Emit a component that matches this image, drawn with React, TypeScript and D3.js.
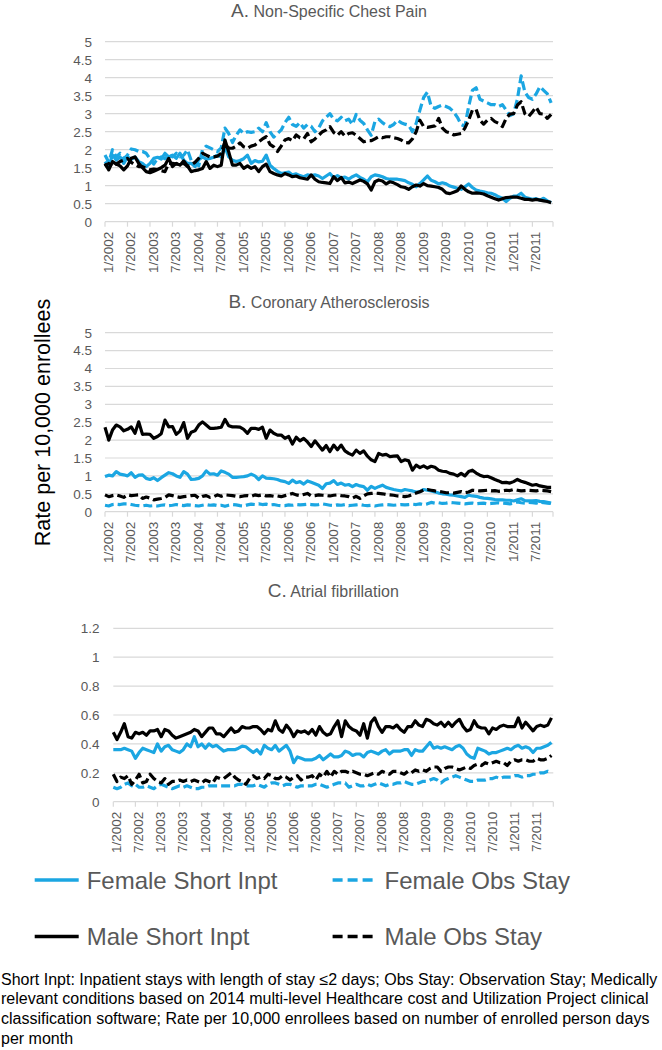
import * as d3 from "d3";

const FONT = "'Liberation Sans', Arial, Helvetica, sans-serif";
const BLUE = "#1ba6e2";
const GREY = "#595959";
const GRID = "#d9d9d9";

const tickLabels = [
  "1/2002", "7/2002", "1/2003", "7/2003", "1/2004", "7/2004", "1/2005", "7/2005",
  "1/2006", "7/2006", "1/2007", "7/2007", "1/2008", "7/2008", "1/2009", "7/2009",
  "1/2010", "7/2010", "1/2011", "7/2011",
];

const seriesNames = ["Female Short Inpt", "Female Obs Stay", "Male Short Inpt", "Male Obs Stay"];

// A. Non-Specific Chest Pain, monthly 1/2002 - 12/2011
const chestFemaleInpt = [
  1.67, 1.53, 1.85, 1.71, 1.8, 1.62, 1.8, 1.73, 1.8, 1.67, 1.62, 1.53,
  1.62, 1.76, 1.79, 1.74, 1.9, 1.8, 1.85, 1.76, 1.9, 1.71, 1.62, 1.62,
  1.53, 1.72, 1.8, 1.74, 1.76, 1.79, 1.85, 1.8, 2.08, 1.8, 1.71, 1.67,
  1.7, 1.75, 1.85, 1.62, 1.7, 1.66, 1.68, 1.85, 1.57, 1.48, 1.4, 1.34,
  1.36, 1.38, 1.3, 1.33, 1.28, 1.25, 1.3, 1.28, 1.3, 1.27, 1.2, 1.27,
  1.34, 1.22, 1.28, 1.22, 1.24, 1.18, 1.25, 1.3, 1.23, 1.18, 1.11, 1.25,
  1.3, 1.28, 1.25, 1.2, 1.18, 1.18, 1.18, 1.16, 1.14, 1.08, 1.04, 0.97,
  1.06, 1.16, 1.27, 1.15, 1.11, 1.05, 1.08, 1.05, 0.99, 0.96, 0.93, 0.9,
  0.97, 1.05, 0.95, 0.88, 0.85, 0.83, 0.8, 0.79, 0.75, 0.69, 0.65, 0.56,
  0.65, 0.71, 0.72, 0.79, 0.68, 0.65, 0.62, 0.64, 0.6, 0.65, 0.58, 0.53,
];
const chestFemaleObs = [
  1.85, 1.65, 2.0, 1.8, 1.9, 1.75, 1.85, 2.02, 2.0, 1.95, 1.95, 1.9,
  1.75, 1.6, 1.75, 1.8, 1.75, 1.85, 1.8, 1.9, 1.8, 1.85, 2.0, 1.7,
  1.65, 1.55, 2.0, 2.1, 2.05, 2.0, 1.95, 2.05, 2.6, 2.45, 2.2, 2.4,
  2.55, 2.45, 2.5, 2.48, 2.5, 2.6, 2.5, 2.75, 2.5, 2.35, 2.45, 2.55,
  2.75, 2.9, 2.7, 2.65, 2.75, 2.6, 2.7, 2.65, 2.5, 2.6, 2.8, 2.9,
  3.0, 2.85, 2.8, 2.9, 2.8, 2.85, 2.7, 2.98, 2.82, 2.73, 2.55, 2.4,
  2.78, 2.85, 2.75, 2.68, 2.64, 2.7, 2.82, 2.75, 2.71, 2.68, 2.5, 2.73,
  3.1, 3.45, 3.6, 3.2, 3.15, 3.2, 3.24, 3.2, 3.15, 3.05, 2.9, 2.7,
  2.65, 3.2, 3.65, 3.72, 3.4, 3.35, 3.3, 3.25, 3.25, 3.2, 3.25, 3.1,
  2.95, 3.0, 3.4, 4.05, 3.6, 3.45, 3.4, 3.55, 3.75, 3.65, 3.55, 3.3,
];
const chestMaleInpt = [
  1.62, 1.44, 1.67, 1.6, 1.55, 1.44, 1.55, 1.76, 1.8, 1.62, 1.5, 1.39,
  1.36, 1.4, 1.45, 1.5, 1.57, 1.76, 1.53, 1.62, 1.57, 1.69, 1.55, 1.39,
  1.42, 1.44, 1.48, 1.67, 1.48, 1.57, 1.53, 1.57, 2.27, 1.94, 1.57, 1.57,
  1.62, 1.48, 1.55, 1.48, 1.53, 1.39, 1.53, 1.6, 1.39, 1.34, 1.3, 1.27,
  1.34, 1.3, 1.25, 1.27, 1.22, 1.2, 1.18, 1.3, 1.18, 1.11, 1.09, 1.08,
  1.06, 1.25, 1.14, 1.23, 1.08, 1.1, 1.06, 1.11, 1.16, 1.12, 1.05, 0.88,
  1.11, 1.16, 1.13, 1.05, 1.11, 1.08, 1.03, 0.97, 0.95, 0.9, 0.97, 1.02,
  0.99, 1.06, 1.0, 0.99, 0.97, 0.95, 0.9, 0.8, 0.78, 0.82, 0.86, 0.99,
  0.9, 0.83, 0.79, 0.8, 0.79, 0.77, 0.72, 0.68, 0.64, 0.6, 0.64, 0.67,
  0.68, 0.68, 0.68, 0.65, 0.62, 0.62, 0.6, 0.62, 0.6, 0.58, 0.56, 0.53,
];
const chestMaleObs = [
  1.53, 1.62, 1.53, 1.6, 1.67, 1.71, 1.76, 1.65, 1.58, 1.53, 1.53, 1.48,
  1.44, 1.46, 1.45, 1.42, 1.39, 1.62, 1.62, 1.6, 1.6, 1.62, 1.53, 1.58,
  1.65, 1.76, 1.9, 1.85, 1.8, 1.8, 1.82, 1.9, 2.22, 2.04, 2.04, 2.1,
  2.19, 2.08, 2.04, 2.1, 2.13, 2.22, 2.3, 2.36, 2.15, 2.08, 1.95, 2.1,
  2.27, 2.31, 2.25, 2.41, 2.33, 2.3, 2.45, 2.22, 2.3, 2.4, 2.5, 2.55,
  2.64, 2.48, 2.4, 2.5, 2.38, 2.45, 2.47, 2.4, 2.31, 2.22, 2.25, 2.25,
  2.3, 2.36, 2.33, 2.36, 2.36, 2.33, 2.31, 2.27, 2.2, 2.19, 2.3, 2.5,
  2.82, 2.64, 2.62, 2.64, 2.66, 2.87, 2.6, 2.5, 2.47, 2.41, 2.43, 2.45,
  2.6, 2.82, 3.1, 3.12, 2.82, 2.71, 2.82, 2.87, 2.78, 2.73, 2.64, 2.87,
  2.99, 3.0, 3.24, 3.33, 3.0, 2.92, 3.05, 3.18, 3.0, 2.99, 2.87, 2.98,
];

// B. Coronary Atherosclerosis
const coronaryFemaleInpt = [
  0.98, 1.02, 1.0, 1.12, 1.05, 1.03, 1.0, 1.09, 0.96, 1.02, 1.03, 0.93,
  0.9, 0.95, 0.87, 0.95, 1.02, 1.09, 1.06, 1.0, 0.96, 1.12, 1.05, 0.9,
  0.91, 0.93, 1.0, 1.14, 1.05, 1.06, 1.02, 1.14, 1.1, 1.05, 0.96, 0.96,
  0.97, 0.98, 1.0, 1.05, 1.0, 0.9, 1.0, 0.94, 0.93, 0.92, 0.9, 0.86,
  0.84, 0.79, 0.88, 0.81, 0.84, 0.77, 0.86, 0.82, 0.78, 0.74, 0.65, 0.78,
  0.8, 0.87, 0.76, 0.8, 0.74, 0.76, 0.7, 0.76, 0.72, 0.7, 0.6, 0.71,
  0.65, 0.7, 0.74, 0.68, 0.65, 0.62, 0.6, 0.58, 0.62, 0.6, 0.58, 0.55,
  0.56, 0.62, 0.6, 0.58, 0.55, 0.52, 0.5, 0.49, 0.47, 0.46, 0.44, 0.42,
  0.4, 0.46, 0.44, 0.43, 0.4, 0.38, 0.37, 0.36, 0.34, 0.33, 0.33, 0.32,
  0.32, 0.3, 0.33, 0.36, 0.31, 0.3, 0.3, 0.31, 0.29, 0.28, 0.26, 0.24,
];
const coronaryFemaleObs = [
  0.18, 0.16, 0.2, 0.21, 0.2, 0.22, 0.22, 0.2, 0.18, 0.17, 0.16, 0.18,
  0.16, 0.17, 0.16, 0.18, 0.19, 0.17, 0.18, 0.2, 0.18, 0.17, 0.19, 0.18,
  0.17, 0.16, 0.18, 0.2, 0.18, 0.19, 0.17, 0.18, 0.15, 0.18, 0.2, 0.19,
  0.17, 0.16, 0.19, 0.21, 0.2, 0.22, 0.2, 0.21, 0.19, 0.2, 0.18, 0.17,
  0.17, 0.19, 0.18, 0.2, 0.19, 0.2, 0.21, 0.2, 0.19, 0.2, 0.22, 0.2,
  0.18, 0.17, 0.19, 0.18, 0.2, 0.17, 0.18, 0.19, 0.2, 0.18, 0.17, 0.18,
  0.16, 0.18, 0.19, 0.2, 0.19, 0.18, 0.19, 0.2, 0.19, 0.2, 0.21, 0.2,
  0.22, 0.2, 0.22, 0.26, 0.24, 0.25, 0.23, 0.24, 0.26, 0.25, 0.24, 0.23,
  0.22, 0.23, 0.24, 0.22, 0.23, 0.24, 0.22, 0.23, 0.24, 0.25, 0.24, 0.23,
  0.22, 0.24, 0.27, 0.25, 0.24, 0.26, 0.25, 0.24, 0.27, 0.25, 0.24, 0.23,
];
const coronaryMaleInpt = [
  2.36, 2.0, 2.28, 2.42, 2.37, 2.26, 2.3, 2.37, 2.19, 2.51, 2.16, 2.17,
  2.16, 2.05, 2.1, 2.18, 2.56, 2.37, 2.38, 2.16, 2.25, 2.49, 2.05, 2.22,
  2.26, 2.42, 2.51, 2.42, 2.33, 2.33, 2.34, 2.36, 2.58, 2.4, 2.37, 2.37,
  2.36, 2.3, 2.19, 2.33, 2.33, 2.3, 2.36, 2.05, 2.28, 2.19, 2.14, 2.14,
  2.05, 2.1, 1.89, 2.08, 1.98, 2.05, 1.95, 1.82, 1.98, 1.85, 1.72, 1.85,
  1.68, 1.86, 1.73, 1.86, 1.7, 1.63, 1.58, 1.72, 1.63, 1.7, 1.55, 1.45,
  1.4, 1.63, 1.58, 1.6, 1.54, 1.55, 1.56, 1.4, 1.45, 1.42, 1.16, 1.3,
  1.23, 1.28, 1.22, 1.27, 1.24, 1.16, 1.13, 1.12, 1.07, 1.05, 1.0, 1.07,
  1.0, 1.12, 1.16, 1.08, 1.02, 0.98, 0.99, 0.95, 0.9, 0.86, 0.81, 0.82,
  0.8, 0.84, 0.9, 0.85, 0.82, 0.78, 0.74, 0.76, 0.72, 0.7, 0.68, 0.68,
];
const coronaryMaleObs = [
  0.47, 0.42, 0.45, 0.47, 0.44, 0.4, 0.47, 0.45, 0.46, 0.47, 0.37, 0.41,
  0.38, 0.33, 0.35, 0.37, 0.4, 0.47, 0.45, 0.42, 0.4, 0.42, 0.43, 0.45,
  0.46, 0.38, 0.43, 0.45, 0.4, 0.42, 0.47, 0.43, 0.47, 0.46, 0.45, 0.43,
  0.42, 0.44, 0.45, 0.43, 0.47, 0.45, 0.47, 0.44, 0.45, 0.43, 0.44, 0.42,
  0.45, 0.48, 0.51, 0.47, 0.45, 0.48, 0.51, 0.44, 0.45, 0.47, 0.46, 0.45,
  0.44, 0.46, 0.47, 0.45, 0.44, 0.42, 0.38, 0.43, 0.37, 0.44, 0.5, 0.51,
  0.52, 0.51, 0.5, 0.48, 0.47, 0.46, 0.44, 0.43, 0.42, 0.44, 0.48, 0.52,
  0.56, 0.6, 0.62, 0.6, 0.58, 0.57, 0.55, 0.53, 0.53, 0.52, 0.54, 0.56,
  0.53, 0.55, 0.6, 0.59, 0.58, 0.59, 0.6, 0.58, 0.59, 0.57, 0.58, 0.6,
  0.59, 0.62, 0.6, 0.58, 0.59, 0.6, 0.59, 0.58, 0.6, 0.59, 0.58, 0.56,
];

// C. Atrial fibrillation
const afibFemaleInpt = [
  0.36, 0.36, 0.36, 0.37, 0.36, 0.35, 0.3, 0.34, 0.37, 0.36, 0.35, 0.34,
  0.4, 0.35, 0.38, 0.39, 0.36, 0.35, 0.34, 0.36, 0.4, 0.38, 0.45, 0.38,
  0.4, 0.37, 0.4, 0.38, 0.39, 0.37, 0.35, 0.36, 0.36, 0.36, 0.37, 0.385,
  0.38, 0.36, 0.34, 0.36, 0.33, 0.39, 0.37, 0.36, 0.39, 0.35, 0.37, 0.39,
  0.35, 0.27, 0.31, 0.3, 0.29, 0.29, 0.29, 0.3, 0.32, 0.29, 0.31, 0.33,
  0.31, 0.31, 0.32, 0.35, 0.34, 0.32, 0.33, 0.33, 0.31, 0.34, 0.35, 0.34,
  0.33, 0.35, 0.36, 0.33, 0.35, 0.35, 0.35, 0.36, 0.36, 0.32, 0.36, 0.35,
  0.35, 0.38, 0.41, 0.37, 0.38, 0.37, 0.38, 0.37, 0.36, 0.38, 0.39, 0.37,
  0.33, 0.31, 0.3, 0.37, 0.36, 0.35, 0.33, 0.34, 0.34, 0.35, 0.36, 0.37,
  0.36, 0.38, 0.39, 0.37, 0.38, 0.37, 0.34, 0.37, 0.37, 0.38, 0.39, 0.41,
];
const afibFemaleObs = [
  0.1, 0.09, 0.1, 0.12, 0.13, 0.11, 0.12, 0.1, 0.1, 0.11, 0.1, 0.09,
  0.11, 0.12, 0.11, 0.1, 0.09, 0.1, 0.11, 0.1, 0.11, 0.1, 0.09, 0.09,
  0.1, 0.1, 0.11, 0.11, 0.11, 0.11, 0.11, 0.11, 0.11, 0.11, 0.12, 0.12,
  0.11, 0.11, 0.11, 0.12, 0.11, 0.1, 0.12, 0.13, 0.13, 0.12, 0.11, 0.12,
  0.12, 0.11, 0.1, 0.11, 0.11, 0.11, 0.11, 0.12, 0.12, 0.11, 0.1, 0.11,
  0.12, 0.13, 0.13, 0.13, 0.1, 0.11, 0.12, 0.11, 0.11, 0.12, 0.11, 0.12,
  0.13, 0.12, 0.11, 0.12, 0.12, 0.13, 0.13, 0.14, 0.13, 0.12, 0.12, 0.13,
  0.14, 0.14, 0.15, 0.16, 0.15, 0.13, 0.15, 0.16, 0.17, 0.18, 0.17, 0.16,
  0.15, 0.14, 0.14, 0.15, 0.15, 0.15, 0.16, 0.16, 0.17, 0.16, 0.17, 0.17,
  0.17, 0.18, 0.18, 0.17, 0.18, 0.18, 0.19, 0.19, 0.2, 0.2, 0.21, 0.2,
];
const afibMaleInpt = [
  0.48, 0.43, 0.48, 0.54, 0.45, 0.44, 0.48, 0.47, 0.48, 0.46, 0.49, 0.49,
  0.5, 0.45, 0.5, 0.49, 0.46, 0.44, 0.45, 0.46, 0.47, 0.48, 0.5, 0.49,
  0.45, 0.48, 0.51, 0.51, 0.47, 0.47, 0.45, 0.48, 0.51, 0.48, 0.49, 0.52,
  0.51, 0.51, 0.52, 0.52, 0.5, 0.47, 0.5, 0.49, 0.56, 0.5, 0.48, 0.53,
  0.5, 0.45, 0.49, 0.48, 0.49, 0.47, 0.5, 0.46, 0.52, 0.48, 0.46, 0.47,
  0.52, 0.56, 0.45, 0.56, 0.52, 0.5, 0.49, 0.46, 0.54, 0.44, 0.55, 0.58,
  0.52, 0.48, 0.52, 0.52, 0.51, 0.53, 0.5, 0.48, 0.52, 0.52, 0.56, 0.53,
  0.52, 0.57, 0.56, 0.54, 0.53, 0.55, 0.52, 0.55, 0.52, 0.55, 0.57, 0.52,
  0.49, 0.5, 0.56, 0.52, 0.51, 0.51, 0.47, 0.51, 0.5, 0.52, 0.53, 0.52,
  0.52, 0.52, 0.58, 0.51, 0.55, 0.52, 0.49, 0.52, 0.53, 0.52, 0.53, 0.58,
];
const afibMaleObs = [
  0.19, 0.14, 0.17, 0.16, 0.18, 0.12, 0.15, 0.19, 0.13, 0.14, 0.19, 0.16,
  0.14, 0.13, 0.16, 0.12, 0.14, 0.14, 0.15, 0.14, 0.15, 0.14, 0.15, 0.14,
  0.13, 0.15, 0.14, 0.13, 0.17, 0.16, 0.16, 0.18, 0.2, 0.17, 0.15, 0.14,
  0.12, 0.16, 0.18, 0.16, 0.17, 0.16, 0.19, 0.18, 0.16, 0.16, 0.18, 0.17,
  0.15, 0.17, 0.18, 0.15, 0.17, 0.17, 0.18, 0.15, 0.19, 0.17, 0.21, 0.17,
  0.21, 0.19, 0.21, 0.21, 0.2, 0.21, 0.2, 0.19, 0.19, 0.18, 0.19, 0.2,
  0.19, 0.21, 0.2, 0.19, 0.21, 0.21, 0.2, 0.19, 0.21, 0.2, 0.22, 0.21,
  0.22, 0.21, 0.23, 0.24, 0.24, 0.21, 0.23, 0.24, 0.24, 0.23, 0.22, 0.23,
  0.24, 0.23, 0.25, 0.26, 0.25, 0.27, 0.26, 0.27, 0.28, 0.27, 0.27, 0.25,
  0.28, 0.29, 0.28, 0.29, 0.29, 0.28, 0.28, 0.3, 0.29, 0.29, 0.3, 0.32,
];

const styles = [
  { color: BLUE, dash: null },
  { color: BLUE, dash: "9 4" },
  { color: "#000", dash: null },
  { color: "#000", dash: "9 4" },
];

const panels = [
  {
    letter: "A.", title: "Non-Specific Chest Pain",
    series: [chestFemaleInpt, chestFemaleObs, chestMaleInpt, chestMaleObs],
    yMax: 5, yStep: 0.5, top: 41.7, bottom: 221.7, left: 105, right: 553, labelRight: 92, titleY: 16.5,
  },
  {
    letter: "B.", title: "Coronary Atherosclerosis",
    series: [coronaryFemaleInpt, coronaryFemaleObs, coronaryMaleInpt, coronaryMaleObs],
    yMax: 5, yStep: 0.5, top: 332.7, bottom: 511.7, left: 105, right: 553, labelRight: 92, titleY: 308,
  },
  {
    letter: "C.", title: "Atrial fibrillation",
    series: [afibFemaleInpt, afibFemaleObs, afibMaleInpt, afibMaleObs],
    yMax: 1.2, yStep: 0.2, top: 628.3, bottom: 801.7, left: 113.3, right: 553.3, labelRight: 99.5, titleY: 597,
  },
];

const footnote = [
  "Short Inpt: Inpatient stays with length of stay \u22642 days; Obs Stay: Observation Stay; Medically",
  "relevant conditions based on 2014 multi-level Healthcare cost and Utilization Project clinical",
  "classification software; Rate per 10,000 enrollees based on number of enrolled person days",
  "per month",
];

function Panel({ p }: { p: (typeof panels)[number] }) {
  const x = d3.scaleLinear().domain([0, 119.5]).range([p.left, p.right]);
  const y = d3.scaleLinear().domain([0, p.yMax]).range([p.bottom, p.top]);
  const yTicks = d3.range(0, p.yMax + p.yStep / 2, p.yStep).map((v) => +v.toFixed(2));
  const xTicks = tickLabels.map((_, k) => k * 6);
  const line = d3
    .line<number>()
    .x((_, i) => x(i))
    .y((d) => y(d));
  const cx = (p.left + p.right) / 2;
  return (
    <g>
      <text x={cx} y={p.titleY} textAnchor="middle" fill={GREY} fontFamily={FONT}>
        <tspan fontSize={19}>{p.letter}</tspan>
        <tspan fontSize={16}> {p.title}</tspan>
      </text>
      {yTicks.map((v) => (
        <g key={v}>
          {v > 0 && (
            <line x1={p.left} x2={p.right} y1={y(v)} y2={y(v)} stroke={GRID} strokeWidth={1.2} />
          )}
          <text
            x={p.labelRight}
            y={y(v)}
            dy="0.36em"
            textAnchor="end"
            fontSize={13.5}
            fill={GREY}
            fontFamily={FONT}
          >
            {String(v)}
          </text>
        </g>
      ))}
      <line x1={p.left} x2={p.right} y1={p.bottom} y2={p.bottom} stroke={GRID} strokeWidth={1.2} />
      {[...xTicks, 119.5].map((t) => (
        <line key={t} x1={x(t)} x2={x(t)} y1={p.bottom} y2={p.bottom + 5} stroke={GRID} strokeWidth={1.2} />
      ))}
      {xTicks.map((t, k) => (
        <text
          key={t}
          transform={`translate(${x(t) + 3},${p.bottom + 10}) rotate(-90)`}
          dy="0.36em"
          textAnchor="end"
          fontSize={13.5}
          fill={GREY}
          fontFamily={FONT}
        >
          {tickLabels[k]}
        </text>
      ))}
      {p.series.map((vals, s) => (
        <path
          key={s}
          d={line(vals) ?? ""}
          fill="none"
          stroke={styles[s].color}
          strokeWidth={3.2}
          strokeDasharray={styles[s].dash ?? undefined}
          strokeLinejoin="round"
        />
      ))}
    </g>
  );
}

export default function App() {
  const legendCols = [34.7, 332.6];
  const legendRows = [880, 936.5];
  return (
    <svg
      width={662}
      height={1050}
      style={{ position: "absolute", left: 0, top: 0, background: "#fff" }}
    >
      {panels.map((p) => (
        <Panel key={p.letter} p={p} />
      ))}
      <text
        transform="translate(50,422.5) rotate(-90)"
        textAnchor="middle"
        fontSize={21.5}
        fill="#000"
        fontFamily={FONT}
      >
        Rate per 10,000 enrollees
      </text>
      {seriesNames.map((name, s) => {
        const lx = legendCols[s % 2];
        const ly = legendRows[Math.floor(s / 2)];
        return (
          <g key={name}>
            <line
              x1={lx}
              x2={lx + 44}
              y1={ly}
              y2={ly}
              stroke={styles[s].color}
              strokeWidth={3.5}
              strokeDasharray={styles[s].dash ? "10 5" : undefined}
            />
            <text x={lx + 52} y={ly + 8.5} fontSize={24} fill={GREY} fontFamily={FONT}>
              {name}
            </text>
          </g>
        );
      })}
      {footnote.map((t, k) => (
        <text key={k} x={1} y={984.5 + k * 19.8} fontSize={16} fill="#000" fontFamily={FONT}>
          {t}
        </text>
      ))}
    </svg>
  );
}
